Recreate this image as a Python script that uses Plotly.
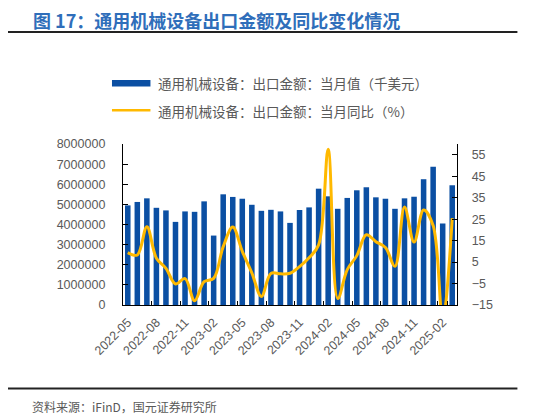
import plotly.graph_objects as go

# monthly data, 2022-05 .. 2025-03
months = [
    "2022-05", "2022-06", "2022-07", "2022-08", "2022-09", "2022-10", "2022-11", "2022-12",
    "2023-01", "2023-02", "2023-03", "2023-04", "2023-05", "2023-06", "2023-07", "2023-08",
    "2023-09", "2023-10", "2023-11", "2023-12", "2024-01", "2024-02", "2024-03", "2024-04",
    "2024-05", "2024-06", "2024-07", "2024-08", "2024-09", "2024-10", "2024-11", "2024-12",
    "2025-01", "2025-02", "2025-03",
]
# export value, thousand USD
export_value = [
    4950000, 5120000, 5300000, 4830000, 4700000, 4130000, 4650000, 4630000,
    5150000, 3450000, 5500000, 5370000, 5280000, 4980000, 4680000, 4730000,
    4650000, 4080000, 4720000, 4850000, 5780000, 5400000, 4780000, 5320000,
    5700000, 5850000, 5350000, 5280000, 4780000, 5300000, 5380000, 6250000,
    6870000, 4050000, 5950000,
]
# year-on-year growth, %
export_yoy = [
    9.4, 8.3, 21.5, 6.8, 2.1, -5.2, -2.7, -13.0,
    -4.1, -2.6, 12.2, 21.3, 10.0, 0.0, -11.0, -0.3,
    -0.5, -0.2, 2.9, 7.0, 13.0, 57.5, -12.0, 1.5,
    8.0, 17.7, 14.5, 11.8, 3.0, 30.6, 14.3, 29.3,
    22.0, -22.0, 25.5,
]
left_ticks = list(range(0, 8000001, 1000000))
right_ticks = list(range(-15, 56, 10))

bar_name = "通用机械设备：出口金额：当月值（千美元）"
line_name = "通用机械设备：出口金额：当月同比（%）"
title_text = "图 17：通用机械设备出口金额及同比变化情况"
source_text = "资料来源：iFinD，国元证券研究所"

BLUE = "#0b4fa3"
GOLD = "#ffb900"
GREY = "#595959"

# the page body has an 8px margin, so the figure starts 8px in from the corner
OFF = 8
W, H = 533 - OFF, 418 - OFF
L, R, T, B = 123.3 - OFF, 456.7 - OFF, 144.3 - OFF, 305.0 - OFF


# window pixel -> paper helpers for the decorations outside the plot area
def px_x(x):
    return (x - OFF - L) / (R - L)


def px_y(y):
    return (B - (y - OFF)) / (B - T)


fig = go.Figure()
fig.add_trace(go.Bar(x=months, y=export_value, name=bar_name,
                     marker=dict(color=BLUE, line=dict(width=0)), yaxis="y"))
fig.add_trace(go.Scatter(x=months, y=export_yoy, name=line_name, mode="lines",
                         line=dict(color=GOLD, width=3, shape="spline", smoothing=1),
                         yaxis="y2"))

tick_font = dict(family="Liberation Sans, Arial", size=12.5, color=GREY)

fig.update_layout(
    width=W, height=H,
    margin=dict(l=L, r=W - R, t=T, b=H - B, autoexpand=False),
    paper_bgcolor="white", plot_bgcolor="white",
    showlegend=False,
    bargap=0.42,
    xaxis=dict(type="category", tickvals=months[::3], tickson="boundaries",
               tickangle=-45, ticks="inside", ticklen=4, tickcolor="black",
               showline=True, linecolor="black", linewidth=1.3,
               showgrid=False, tickfont=tick_font, ticklabelstandoff=4),
    yaxis=dict(range=[0, 8000000], tickvals=left_ticks, tickformat="d",
               ticks="inside", ticklen=5, tickcolor="black",
               showline=True, linecolor="black", linewidth=1.3,
               showgrid=False, zeroline=False, tickfont=tick_font,
               ticklabelstandoff=14),
    yaxis2=dict(range=[-15, 60], tickvals=right_ticks, overlaying="y", side="right",
                ticks="inside", ticklen=5, tickcolor="black",
                showline=True, linecolor="black", linewidth=1.3,
                showgrid=False, zeroline=False, tickfont=tick_font,
                ticklabelstandoff=11),
)

# title, rules and footer
fig.add_annotation(text="<b>" + title_text + "</b>", xref="paper", yref="paper",
                   x=px_x(31), y=px_y(20.5), xanchor="left", yanchor="middle",
                   showarrow=False,
                   font=dict(family="Noto Sans CJK SC", size=18, color="#2f6eba"))
for yy in (32.5, 388.3):
    fig.add_shape(type="line", xref="paper", yref="paper",
                  x0=px_x(5), x1=px_x(517), y0=px_y(yy), y1=px_y(yy),
                  line=dict(color="#222222", width=2))
fig.add_annotation(text=source_text, xref="paper", yref="paper",
                   x=px_x(30), y=px_y(406), xanchor="left", yanchor="middle",
                   showarrow=False,
                   font=dict(family="Noto Sans CJK SC", size=12, color=GREY))

# hand-made legend (wide bar swatch like the original)
fig.add_shape(type="rect", xref="paper", yref="paper",
              x0=px_x(112.3), x1=px_x(150.7), y0=px_y(80.3), y1=px_y(87),
              fillcolor=BLUE, line=dict(width=0))
fig.add_shape(type="line", xref="paper", yref="paper",
              x0=px_x(112.3), x1=px_x(150.7), y0=px_y(110.5), y1=px_y(110.5),
              line=dict(color=GOLD, width=2.5))
for txt, yy in ((bar_name, 83.5), (line_name, 111)):
    fig.add_annotation(text=txt, xref="paper", yref="paper",
                       x=px_x(156), y=px_y(yy), xanchor="left", yanchor="middle",
                       showarrow=False,
                       font=dict(family="Noto Sans CJK SC", size=13.5, color=GREY))

fig.write_html("out.html")
